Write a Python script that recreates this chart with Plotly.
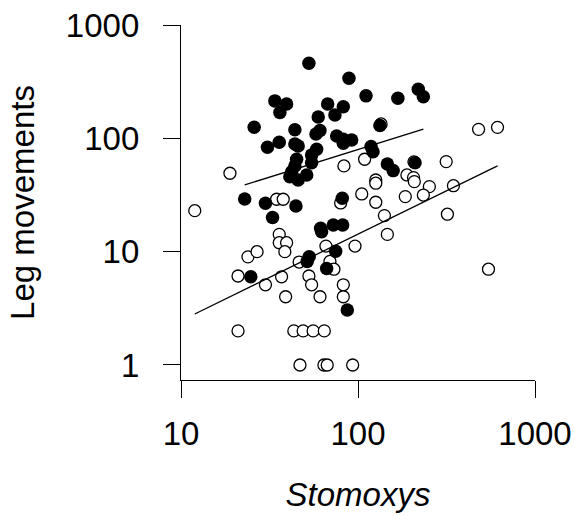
import plotly.graph_objects as go

# Filled circles (Stomoxys count, leg movements)
filled_x = [52.8, 88.9, 111, 33.9, 39.5, 36.2, 67.4, 82.6, 74.1, 59.6,
            25.9, 44.0, 61.0, 57.9, 35.9, 30.8, 44.0, 45.9, 75.8, 82.6,
            92.1, 82.6, 58.4, 54.7, 45.0, 44.0, 42.2, 41.2, 45.9, 51.3,
            54.7, 118.5, 121.6, 22.9, 30.0, 44.6, 32.9, 81.5, 168, 219,
            234, 133, 146.5, 158, 210, 61.5, 62.3, 72.5, 81.9, 24.8,
            53.0, 51.6, 74.8, 66.5, 87.0]
filled_y = [460, 339, 237, 214, 201, 169, 201, 190, 161, 154,
            125, 119, 117, 109, 92.4, 83.4, 89.2, 85.7, 105, 98.2,
            96.8, 90.5, 80.1, 71.4, 65.4, 57.1, 50.8, 45.9, 42.9, 47.5,
            61.0, 84.5, 76.3, 29.2, 26.7, 25.3, 20.0, 29.6, 226, 271,
            233, 130, 59.4, 51.9, 61.0, 16.1, 15.0, 17.2, 17.2, 6.0,
            9.0, 8.2, 10.1, 7.1, 3.06]

# Open circles
open_x = [18.9, 11.96, 34.7, 37.8, 83.3, 109, 105, 79.8, 135, 480,
          614, 315, 189, 206, 208, 126, 126, 253, 346, 126,
          185, 234, 141, 320, 35.9, 35.9, 39.5, 38.6, 23.9, 26.9,
          21.0, 30.0, 37.0, 39.0, 46.5, 52.8, 54.7, 61.0, 65.9, 69.4,
          73.1, 82.6, 82.6, 96.2, 146.5, 546, 21.0, 43.4, 49.0, 55.8,
          64.5, 47.0, 64.2, 67.0, 93.3, 207]
open_y = [49.2, 23.0, 29.0, 29.0, 57.1, 65.4, 32.3, 26.9, 134, 120,
          125, 62.3, 47.5, 45.0, 41.5, 42.9, 40.2, 37.5, 38.2, 27.3,
          30.6, 31.6, 20.8, 21.4, 14.2, 12.0, 12.0, 10.0, 9.0, 10.0,
          6.1, 5.1, 6.0, 4.0, 8.1, 6.1, 5.1, 4.0, 11.2, 8.2,
          7.0, 5.1, 4.0, 11.2, 14.2, 7.0, 2, 2, 2, 2,
          2, 1, 1, 1, 1, 62]

# Fitted regression lines (endpoints)
fit_filled_x = [22.9, 234]
fit_filled_y = [38.8, 120.3]
fit_open_x = [11.96, 614]
fit_open_y = [2.82, 57.1]

x_ticks = [10, 100, 1000]
y_ticks = [1, 10, 100, 1000]

FONT = "Liberation Sans, Arial, sans-serif"

fig = go.Figure()
fig.add_trace(go.Scatter(x=open_x, y=open_y, mode="markers",
                         marker=dict(symbol="circle", size=12, color="white",
                                     line=dict(color="black", width=1.3)),
                         showlegend=False))
fig.add_trace(go.Scatter(x=filled_x, y=filled_y, mode="markers",
                         marker=dict(symbol="circle", size=13.5, color="black",
                                     line=dict(width=0)),
                         showlegend=False))
fig.add_trace(go.Scatter(x=fit_filled_x, y=fit_filled_y, mode="lines",
                         line=dict(color="black", width=1.3), showlegend=False))
fig.add_trace(go.Scatter(x=fit_open_x, y=fit_open_y, mode="lines",
                         line=dict(color="black", width=1.3), showlegend=False))

fig.update_layout(
    width=574, height=516,
    margin=dict(l=181, r=39, t=25, b=136),
    paper_bgcolor="white", plot_bgcolor="white",
    font=dict(family=FONT, size=33, color="black"),
)
fig.update_xaxes(type="log", range=[1, 3], tickvals=x_ticks,
                 ticktext=[str(v) for v in x_ticks], automargin=False,
                 showline=True, linecolor="black", linewidth=1.3,
                 ticks="outside", ticklen=17, tickwidth=1.3, tickcolor="black",
                 showgrid=False, zeroline=False, ticklabelstandoff=7,
                 title=dict(text="<i>Stomoxys</i>", standoff=32,
                            font=dict(size=33)))
fig.update_yaxes(type="log", range=[-0.1324, 3], tickvals=y_ticks,
                 ticktext=[str(v) for v in y_ticks], automargin=False,
                 showline=True, linecolor="black", linewidth=1.3,
                 ticks="outside", ticklen=17, tickwidth=1.3, tickcolor="black",
                 showgrid=False, zeroline=False, ticklabelstandoff=17,
                 title=dict(text="Leg movements", standoff=21,
                            font=dict(size=33)))

fig.write_html("out.html")
